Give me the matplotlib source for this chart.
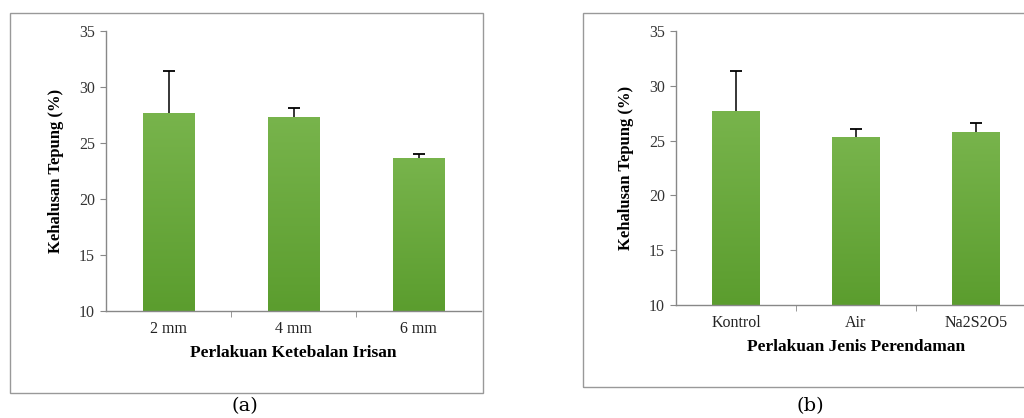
import numpy as np
import matplotlib
matplotlib.use("Agg")
import matplotlib.pyplot as plt
from matplotlib.patches import Rectangle

# panel (a): slice thickness
cats_a = ["2 mm", "4 mm", "6 mm"]
vals_a = [27.7, 27.35, 23.65]
err_a = [3.7, 0.75, 0.35]

# panel (b): soaking type
cats_b = ["Kontrol", "Air", "Na2S2O5"]
vals_b = [27.7, 25.3, 25.8]
err_b = [3.65, 0.75, 0.8]

ylabel = "Kehalusan Tepung (%)"
xlabel_a = "Perlakuan Ketebalan Irisan"
xlabel_b = "Perlakuan Jenis Perendaman"

plt.rcParams['font.family'] = ['Liberation Serif', 'DejaVu Serif']

W, H = 1024, 418
fig = plt.figure(figsize=(W / 100, H / 100), dpi=100)
YMIN = 10


def px(x0, y0, x1, y1):
    # pixel box (top-left origin) -> figure fraction rect
    return [x0 / W, 1 - y1 / H, (x1 - x0) / W, (y1 - y0) / H]


def gradient_bars(ax, bars):
    grad = np.linspace(0, 1, 256).reshape(-1, 1)
    cmap = matplotlib.colors.LinearSegmentedColormap.from_list(
        "g", ["#5b9d2e", "#78b44c"])
    for b in bars:
        x, y = b.get_x(), b.get_y()
        w, h = b.get_width(), b.get_height()
        im = ax.imshow(grad, cmap=cmap, aspect="auto", origin="lower",
                       extent=[x, x + w, y, y + h], zorder=2)
        im.set_clip_path(b)
        b.set_facecolor("none")
        b.set_edgecolor("none")


def panel(rect, cats, vals, errs, xlabel, barw):
    ax = fig.add_axes(rect)
    x = np.arange(len(cats))
    vals = np.array(vals)
    tops = vals + np.array(errs)
    bars = ax.bar(x, vals - YMIN, width=barw, bottom=YMIN, color="#6aab3f", zorder=2)
    gradient_bars(ax, bars)
    # upper-only error bars
    ax.vlines(x, vals, tops, color="black", linewidth=1.1, zorder=3)
    ax.plot(x, tops, linestyle="none", marker="_", markersize=9,
            markeredgewidth=1.3, color="black", zorder=3)
    ax.set_ylim(YMIN, 35)
    ax.set_xlim(-0.5, 2.5)
    ax.set_yticks([10, 15, 20, 25, 30, 35])
    ax.set_xticks(x)
    ax.set_xticklabels(cats)
    ax.set_xticks(np.arange(len(cats) - 1) + 0.5, minor=True)
    ax.tick_params(axis="x", which="major", length=0, pad=7, labelsize=11.5, labelcolor="#222222")
    ax.tick_params(axis="x", which="minor", length=4, direction="out", color="#888888")
    ax.tick_params(axis="y", length=4, direction="out", color="#888888", labelsize=11.5,
                   labelcolor="#333333", pad=4)
    for s in ["top", "right"]:
        ax.spines[s].set_visible(False)
    for s in ["left", "bottom"]:
        ax.spines[s].set_color("#888888")
        ax.spines[s].set_linewidth(1.0)
    ax.set_ylabel(ylabel, fontweight="bold", fontsize=12, labelpad=11)
    ax.set_xlabel(xlabel, fontweight="bold", fontsize=12.5, labelpad=6)
    return ax


panel(px(106, 31, 481, 311), cats_a, vals_a, err_a, xlabel_a, 0.41)
panel(px(676, 31, 1036, 305), cats_b, vals_b, err_b, xlabel_b, 0.40)

# outer frames around each chart
fig.patches.append(Rectangle((10 / W, 1 - 393 / H), (483 - 10) / W, (393 - 13) / H,
                             transform=fig.transFigure, fill=False, edgecolor="#999999",
                             linewidth=1.0))
fig.patches.append(Rectangle((583 / W, 1 - 387 / H), (1030 - 583) / W, (387 - 13) / H,
                             transform=fig.transFigure, fill=False, edgecolor="#999999",
                             linewidth=1.0))

fig.text(245 / W, 1 - 406 / H, "(a)", ha="center", va="center", fontsize=14,
         family=["DejaVu Serif"])
fig.text(810 / W, 1 - 406 / H, "(b)", ha="center", va="center", fontsize=14,
         family=["DejaVu Serif"])

fig.savefig("out.png", dpi=100)
